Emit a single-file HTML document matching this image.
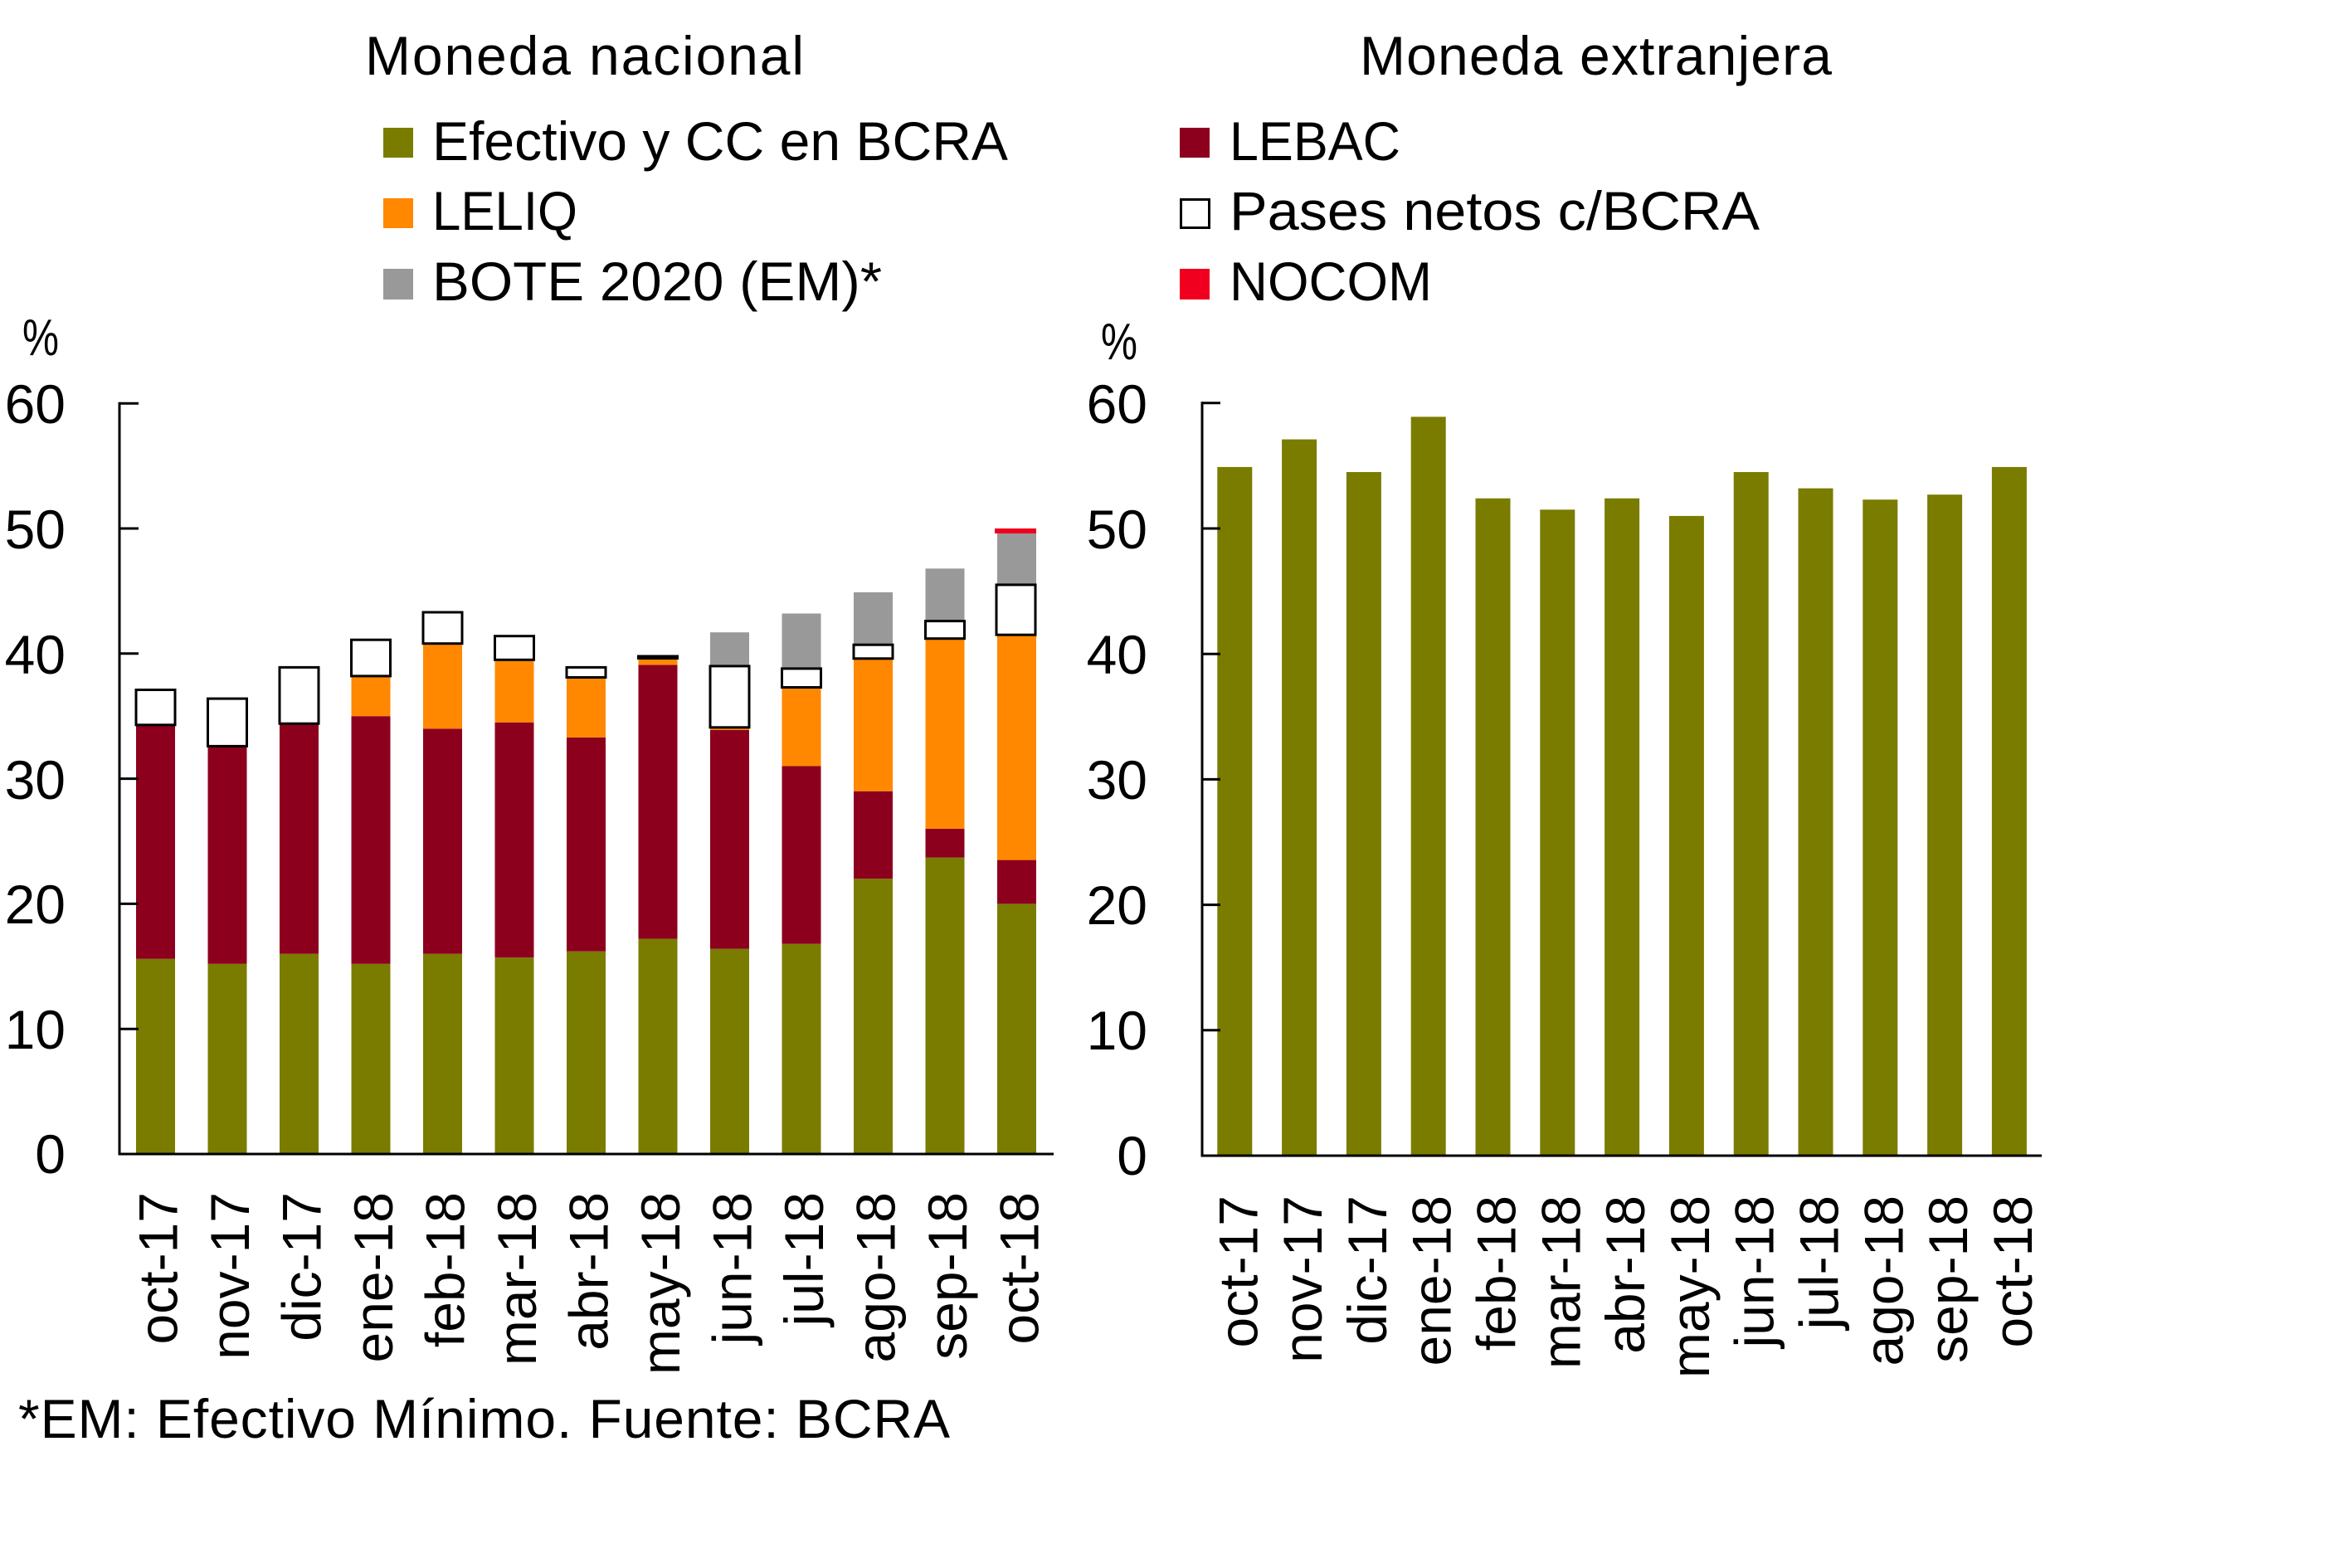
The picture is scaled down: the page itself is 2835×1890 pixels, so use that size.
<!DOCTYPE html>
<html><head><meta charset="utf-8"><style>
html,body{margin:0;padding:0;background:#fff;}
svg{display:block;}
text{font-family:"Liberation Sans",Arial,sans-serif;fill:#000;}
</style></head><body>
<svg width="2835" height="1890" viewBox="0 0 2835 1890" xmlns="http://www.w3.org/2000/svg">
<rect x="0" y="0" width="2835" height="1890" fill="#fff"/>
<!-- Titles -->
<text x="440" y="90" font-size="66" textLength="529">Moneda nacional</text>
<text x="1639" y="90" font-size="66" textLength="569">Moneda extranjera</text>
<!-- Legend left -->
<rect x="462" y="154" width="36" height="36" fill="#7A7C00"/>
<text x="521" y="193" font-size="66" textLength="694" lengthAdjust="spacingAndGlyphs">Efectivo y CC en BCRA</text>
<rect x="462" y="239" width="36" height="36" fill="#FF8800"/>
<text x="521" y="277" font-size="66" textLength="175" lengthAdjust="spacingAndGlyphs">LELIQ</text>
<rect x="462" y="324" width="36" height="37" fill="#999999"/>
<text x="521" y="362" font-size="66" textLength="542" lengthAdjust="spacingAndGlyphs">BOTE 2020 (EM)*</text>
<!-- Legend right -->
<rect x="1422" y="154" width="36" height="36" fill="#8C001E"/>
<text x="1482" y="193" font-size="66" textLength="206" lengthAdjust="spacingAndGlyphs">LEBAC</text>
<rect x="1423.5" y="240.5" width="34" height="34" fill="#fff" stroke="#000" stroke-width="3"/>
<text x="1482" y="277" font-size="66" textLength="639" lengthAdjust="spacingAndGlyphs">Pases netos c/BCRA</text>
<rect x="1422" y="324" width="36" height="37" fill="#F0001E"/>
<text x="1482" y="362" font-size="66" textLength="244" lengthAdjust="spacingAndGlyphs">NOCOM</text>

<!-- % labels -->
<text x="27" y="428" font-size="62" textLength="44" lengthAdjust="spacingAndGlyphs">%</text>
<text x="1327" y="433" font-size="62" textLength="44" lengthAdjust="spacingAndGlyphs">%</text>

<!-- LEFT CHART bars -->
<g fill="#7A7C00">
<rect x="164" y="1155.8" width="47" height="235.2"/>
<rect x="250.5" y="1161.8" width="47" height="229.2"/>
<rect x="337" y="1149.7" width="47" height="241.3"/>
<rect x="423.5" y="1161.8" width="47" height="229.2"/>
<rect x="510" y="1149.7" width="47" height="241.3"/>
<rect x="596.5" y="1154.2" width="47" height="236.8"/>
<rect x="683" y="1146.7" width="47" height="244.3"/>
<rect x="769.5" y="1131.6" width="47" height="259.4"/>
<rect x="856" y="1143.7" width="47" height="247.3"/>
<rect x="942.5" y="1137.7" width="47" height="253.3"/>
<rect x="1029" y="1059.2" width="47" height="331.8"/>
<rect x="1115.5" y="1033.6" width="47" height="357.4"/>
<rect x="1202" y="1089.4" width="47" height="301.6"/>
</g>
<g fill="#8C001E">
<rect x="164" y="873.8" width="47" height="282"/>
<rect x="250.5" y="899.4" width="47" height="262.4"/>
<rect x="337" y="872.2" width="47" height="277.5"/>
<rect x="423.5" y="863.2" width="47" height="298.6"/>
<rect x="510" y="878.3" width="47" height="271.4"/>
<rect x="596.5" y="870.7" width="47" height="283.5"/>
<rect x="683" y="888.8" width="47" height="257.9"/>
<rect x="769.5" y="801.4" width="47" height="330.2"/>
<rect x="856" y="879.8" width="47" height="263.9"/>
<rect x="942.5" y="923.5" width="47" height="214.2"/>
<rect x="1029" y="953.7" width="47" height="105.5"/>
<rect x="1115.5" y="998.9" width="47" height="34.7"/>
<rect x="1202" y="1036.6" width="47" height="52.8"/>
</g>
<g fill="#FF8800">
<rect x="423.5" y="814.9" width="47" height="48.3"/>
<rect x="510" y="775.7" width="47" height="102.6"/>
<rect x="596.5" y="795.3" width="47" height="75.4"/>
<rect x="683" y="816.5" width="47" height="72.3"/>
<rect x="769.5" y="793.8" width="47" height="7.6"/>
<rect x="856" y="876.8" width="47" height="3"/>
<rect x="942.5" y="828.5" width="47" height="95"/>
<rect x="1029" y="793.8" width="47" height="159.9"/>
<rect x="1115.5" y="769.7" width="47" height="229.2"/>
<rect x="1202" y="765.2" width="47" height="271.4"/>
</g>
<g fill="#999999">
<rect x="856" y="762.2" width="47" height="40.7"/>
<rect x="942.5" y="739.5" width="47" height="66.4"/>
<rect x="1029" y="713.9" width="47" height="63.3"/>
<rect x="1115.5" y="685.3" width="47" height="63.3"/>
<rect x="1202" y="643" width="47" height="61.9"/>
</g>
<g fill="#fff" stroke="#000" stroke-width="3">
<rect x="164" y="831.5" width="47" height="42.3"/>
<rect x="250.5" y="842.1" width="47" height="57.3"/>
<rect x="337" y="804.4" width="47" height="67.8"/>
<rect x="423.5" y="771.2" width="47" height="43.7"/>
<rect x="510" y="738" width="47" height="37.7"/>
<rect x="596.5" y="766.7" width="47" height="28.6"/>
<rect x="683" y="804.4" width="47" height="12.1"/>
<rect x="769.5" y="791" width="47" height="2.5"/>
<rect x="856" y="802.9" width="47" height="73.9"/>
<rect x="942.5" y="805.9" width="47" height="22.6"/>
<rect x="1029" y="777.2" width="47" height="16.6"/>
<rect x="1115.5" y="748.6" width="47" height="21.1"/>
<rect x="1201" y="704.9" width="47" height="60.3"/>
</g>
<rect x="1199" y="637" width="50" height="6" fill="#F0001E"/>

<!-- LEFT axes -->
<g stroke="#000" stroke-width="3" fill="none">
<line x1="144" y1="484.7" x2="144" y2="1392.5"/>
<line x1="142.5" y1="1391" x2="1270" y2="1391"/>
<line x1="144" y1="486.2" x2="167" y2="486.2"/>
<line x1="144" y1="637" x2="167" y2="637"/>
<line x1="144" y1="787.8" x2="167" y2="787.8"/>
<line x1="144" y1="938.6" x2="167" y2="938.6"/>
<line x1="144" y1="1089.4" x2="167" y2="1089.4"/>
<line x1="144" y1="1240.2" x2="167" y2="1240.2"/>
</g>
<g font-size="66" text-anchor="end">
<text x="79" y="510">60</text>
<text x="79" y="661">50</text>
<text x="79" y="812">40</text>
<text x="79" y="963">30</text>
<text x="79" y="1113">20</text>
<text x="79" y="1264">10</text>
<text x="79" y="1414">0</text>
</g>
<g font-size="66" text-anchor="end">
<text transform="translate(213.5,1437) rotate(-90)">oct-17</text>
<text transform="translate(300,1437) rotate(-90)">nov-17</text>
<text transform="translate(386.5,1437) rotate(-90)">dic-17</text>
<text transform="translate(473,1437) rotate(-90)">ene-18</text>
<text transform="translate(559.5,1437) rotate(-90)">feb-18</text>
<text transform="translate(646,1437) rotate(-90)">mar-18</text>
<text transform="translate(732.5,1437) rotate(-90)">abr-18</text>
<text transform="translate(819,1437) rotate(-90)">may-18</text>
<text transform="translate(905.5,1437) rotate(-90)">jun-18</text>
<text transform="translate(992,1437) rotate(-90)">jul-18</text>
<text transform="translate(1078.5,1437) rotate(-90)">ago-18</text>
<text transform="translate(1165,1437) rotate(-90)">sep-18</text>
<text transform="translate(1251.5,1437) rotate(-90)">oct-18</text>
</g>

<!-- RIGHT CHART bars -->
<g fill="#7A7C00">
<rect x="1467.3" y="562.9" width="42" height="830.1"/>
<rect x="1545.1" y="529.6" width="42" height="863.4"/>
<rect x="1622.9" y="569" width="42" height="824"/>
<rect x="1700.7" y="502.4" width="42" height="890.6"/>
<rect x="1778.5" y="600.7" width="42" height="792.3"/>
<rect x="1856.3" y="614.3" width="42" height="778.7"/>
<rect x="1934.1" y="600.7" width="42" height="792.3"/>
<rect x="2011.9" y="621.9" width="42" height="771.1"/>
<rect x="2089.7" y="569" width="42" height="824"/>
<rect x="2167.5" y="588.6" width="42" height="804.4"/>
<rect x="2245.3" y="602.2" width="42" height="790.8"/>
<rect x="2323.1" y="596.2" width="42" height="796.8"/>
<rect x="2400.9" y="562.9" width="42" height="830.1"/>
</g>
<g stroke="#000" stroke-width="3" fill="none">
<line x1="1449" y1="484.3" x2="1449" y2="1394.5"/>
<line x1="1447.5" y1="1393" x2="2461" y2="1393"/>
<line x1="1449" y1="485.8" x2="1471" y2="485.8"/>
<line x1="1449" y1="637" x2="1471" y2="637"/>
<line x1="1449" y1="788.2" x2="1471" y2="788.2"/>
<line x1="1449" y1="939.4" x2="1471" y2="939.4"/>
<line x1="1449" y1="1090.6" x2="1471" y2="1090.6"/>
<line x1="1449" y1="1241.8" x2="1471" y2="1241.8"/>
</g>
<g font-size="66" text-anchor="end">
<text x="1383" y="510">60</text>
<text x="1383" y="661">50</text>
<text x="1383" y="812">40</text>
<text x="1383" y="963">30</text>
<text x="1383" y="1114">20</text>
<text x="1383" y="1265">10</text>
<text x="1383" y="1416">0</text>
</g>
<g font-size="66" text-anchor="end">
<text transform="translate(1515.3,1441) rotate(-90)">oct-17</text>
<text transform="translate(1593.1,1441) rotate(-90)">nov-17</text>
<text transform="translate(1670.9,1441) rotate(-90)">dic-17</text>
<text transform="translate(1748.7,1441) rotate(-90)">ene-18</text>
<text transform="translate(1826.5,1441) rotate(-90)">feb-18</text>
<text transform="translate(1904.3,1441) rotate(-90)">mar-18</text>
<text transform="translate(1982.1,1441) rotate(-90)">abr-18</text>
<text transform="translate(2059.9,1441) rotate(-90)">may-18</text>
<text transform="translate(2137.7,1441) rotate(-90)">jun-18</text>
<text transform="translate(2215.5,1441) rotate(-90)">jul-18</text>
<text transform="translate(2293.3,1441) rotate(-90)">ago-18</text>
<text transform="translate(2371.1,1441) rotate(-90)">sep-18</text>
<text transform="translate(2448.9,1441) rotate(-90)">oct-18</text>
</g>

<!-- Footnote -->
<text x="22" y="1733" font-size="66" textLength="1123">*EM: Efectivo Mínimo. Fuente: BCRA</text>
</svg>
</body></html>
